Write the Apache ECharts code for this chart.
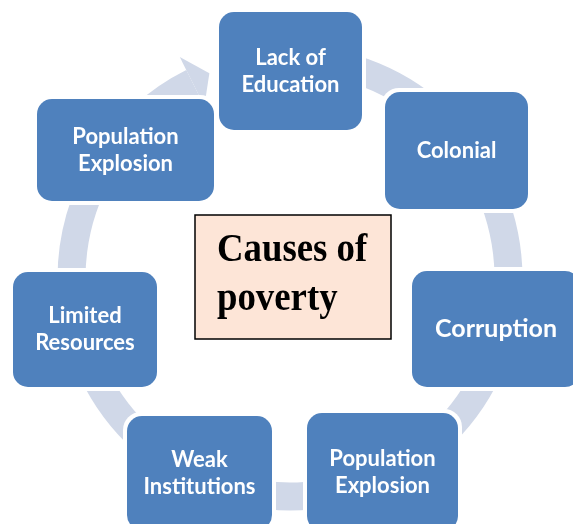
<!DOCTYPE html>
<html>
<head>
<meta charset="utf-8">
<script src="https://cdn.jsdelivr.net/npm/echarts@6/dist/echarts.min.js"></script>
<style>
  html, body { margin: 0; padding: 0; background: #ffffff; }
  #chart { width: 573px; height: 524px; }
</style>
</head>
<body>
<div id="chart"></div>
<script>
// ---- content ----
const causes = [
  'Lack of\nEducation',
  'Colonial',
  'Corruption',
  'Population\nExplosion',
  'Weak\nInstitutions',
  'Limited\nResources',
  'Population\nExplosion'
];
const centerTitle = ['Causes of', 'poverty'];

// ---- layout (positions / sizes, separate from content) ----
// [x, y, width, height, fontSize]
const boxLayout = [
  [219, 12, 143, 118, 22],
  [385, 92, 143, 117, 22],
  [412, 271, 168, 116, 25],
  [307, 413, 151, 118, 22],
  [127, 416, 145, 114, 22],
  [13, 272, 144, 115, 22],
  [37, 99, 177, 102, 22]
];
const ring = { cx: 290, cy: 278, r0: 204.5, r: 232.5 };
const arrowEndDeg = 333.5;   // compass angle, clockwise from top
const arrowTipDeg = 338.5;

const BLUE = '#4f81bd';
const RING = '#d0d8e8';

function polar(deg, r) {
  const a = deg * Math.PI / 180;
  return [ring.cx + r * Math.sin(a), ring.cy - r * Math.cos(a)];
}

const chart = echarts.init(document.getElementById('chart'), null, { renderer: 'canvas' });

const option = {
  animation: false,
  backgroundColor: '#ffffff',
  graphic: [
    {
      type: 'sector', z: 1,
      shape: {
        cx: ring.cx, cy: ring.cy, r0: ring.r0, r: ring.r,
        startAngle: -Math.PI / 2,
        endAngle: (arrowEndDeg - 90) * Math.PI / 180,
        clockwise: true
      },
      style: { fill: RING }
    },
    {
      type: 'polygon', z: 1,
      shape: { points: [polar(arrowEndDeg, 247), polar(arrowTipDeg, 220), polar(arrowEndDeg, 192)] },
      style: { fill: RING }
    },
    {
      type: 'group', z: 10,
      children: [
        {
          type: 'rect',
          shape: { x: 195, y: 215, width: 196, height: 124 },
          style: { fill: '#fde5d7', stroke: '#000000', lineWidth: 1.5 }
        },
        {
          type: 'text', x: 217, y: 231, scaleX: 0.92,
          style: { text: centerTitle[0], font: 'bold 40px "Liberation Serif"', fill: '#000', align: 'left', verticalAlign: 'top' }
        },
        {
          type: 'text', x: 217, y: 280, scaleX: 0.92,
          style: { text: centerTitle[1], font: 'bold 40px "Liberation Serif"', fill: '#000', align: 'left', verticalAlign: 'top' }
        }
      ]
    }
  ],
  series: [
    {
      type: 'custom',
      coordinateSystem: 'none',
      z: 5,
      data: causes.map((c, i) => ({ value: i, name: c })),
      renderItem: function (params, api) {
        const i = params.dataIndex;
        const L = boxLayout[i];
        const [x, y, w, h, fs] = L;
        return {
          type: 'group',
          children: [
            { type: 'rect', shape: { x: x - 4, y: y - 4, width: w + 8, height: h + 8, r: 18 }, style: { fill: '#ffffff' } },
            { type: 'rect', shape: { x: x, y: y, width: w, height: h, r: 15 }, style: { fill: BLUE } },
            {
              type: 'text',
              style: {
                text: causes[i], x: x + w / 2, y: y + h / 2,
                align: 'center', verticalAlign: 'middle',
                font: 'bold ' + fs + 'px Lato', lineHeight: 27, fill: '#ffffff'
              }
            }
          ]
        };
      }
    }
  ]
};
chart.setOption(option);
</script>
</body>
</html>
